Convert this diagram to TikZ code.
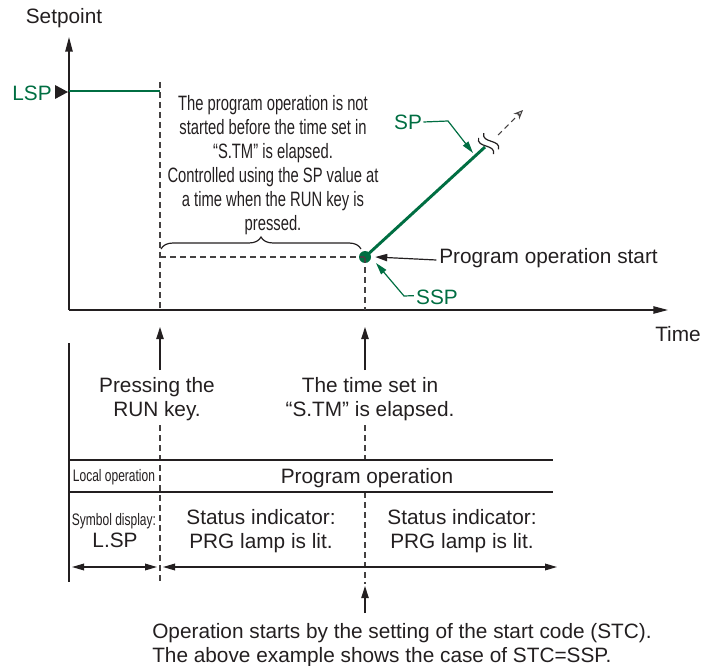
\documentclass[tikz,border=0pt]{standalone}
\usepackage{fontspec}
\setmainfont{Liberation Sans}
\newfontfamily\narrowfont[FakeStretch=0.71]{Liberation Sans}
\newfontfamily\smallnarrow[FakeStretch=0.72]{Liberation Sans}
\usetikzlibrary{arrows.meta,decorations.pathreplacing}
\definecolor{ink}{RGB}{35,31,32}
\definecolor{grn}{RGB}{0,110,66}
\begin{document}
\begin{tikzpicture}[x=0.75pt,y=-0.75pt,
  txt/.style={font=\fontsize{15.6}{17.5}\selectfont, text=ink, inner sep=0pt, align=center},
  ntxt/.style={font=\narrowfont\fontsize{15.6}{18}\selectfont, text=ink, inner sep=0pt, align=center},
  smalltxt/.style={font=\smallnarrow\fontsize{12.5}{13}\selectfont, text=ink, inner sep=0pt},
  axisline/.style={line width=1.1pt, draw=ink, -{Triangle[length=11pt,width=5.5pt]}},
  arr/.style={line width=0.9pt, draw=ink, -{Triangle[length=9pt,width=5.5pt]}},
  dblarr/.style={line width=0.9pt, draw=ink, {Triangle[length=9pt,width=5pt]}-{Triangle[length=9pt,width=5pt]}},
  dashline/.style={draw=ink!85, line width=0.8pt, dash pattern=on 4.5pt off 3pt},
  tline/.style={draw=ink, line width=0.9pt},
  gleader/.style={draw=grn, line width=0.9pt, -{Triangle[length=9pt,width=5pt]}},
]
\useasboundingbox (0,0) rectangle (702,666);

% axes
\coordinate (O) at (69,310);
\coordinate (Ytop) at (69,37);
\coordinate (Xend) at (668,310);
\draw[axisline] (O) -- (Ytop);
\draw[axisline] (O) -- (Xend);
\node[txt] (setpoint) at (64,18) {Setpoint};
\node[txt] (time) at (678,334) {Time};

% LSP
\node[txt, text=grn] (lsp) at (32,93) {LSP};
\fill[ink] (55,85) -- (68,92) -- (55,99) -- cycle;
\coordinate (lspA) at (69,91);
\coordinate (lspB) at (160,91);
\draw[grn, line width=2pt] (lspA) -- (lspB);

% dashed verticals (upper)
\coordinate (d1top) at (160,82);
\coordinate (d1ax) at (160,310);
\draw[dashline] (d1top) -- (d1ax);

% dot and SP line
\node[circle, fill=grn, minimum size=9pt, inner sep=0pt] (dot) at (365,257) {};
\coordinate (d2ax) at (365,310);
\draw[dashline] (dot.center) -- (d2ax);
\coordinate (hl) at (160,257);
\draw[dashline] (hl) -- (dot.center);
\coordinate (spend) at (485,147);
\draw[grn, line width=2.2pt] (dot.center) -- (spend);

% break mark
\begin{scope}[shift={(486,146)}, x=0.75pt, y=0.75pt, rotate=42.3]
  \draw[ink, line width=0.9pt] (0,-11) .. controls (9,-5) and (-9,5) .. (0,11);
  \draw[ink, line width=0.9pt] (7,-11) .. controls (16,-5) and (-2,5) .. (7,11);
\end{scope}
\coordinate (contA) at (498,135);
\coordinate (contB) at (523,110);
\draw[dashline, dash pattern=on 4pt off 3pt, -{Stealth[open,length=7pt,width=6pt]}] (contA) -- (contB);

% SP label
\node[txt, text=grn] (sp) at (408,122) {SP};
\coordinate (spk) at (448,121);
\coordinate (sptip) at (473,153);
\draw[gleader] ([xshift=1pt]sp.east) -- (spk) -- (sptip);

% brace and note
\coordinate (brA) at (161,249);
\coordinate (brB) at (361,249);
\draw[ink, line width=0.9pt, decorate, decoration={brace, amplitude=9pt}] (brA) -- (brB);
\node[ntxt] (note) at (273,165) {The program operation is not\\started before the time set in\\“S.TM” is elapsed.\\Controlled using the SP value at\\a time when the RUN key is\\pressed.};

% Program operation start
\node[txt, anchor=west] (pos) at (439,258) {Program operation start};
\draw[arr] ([xshift=-2pt,yshift=-1.5pt]pos.west) -- ([xshift=3pt]dot.east);

% SSP
\node[txt, text=grn] (ssp) at (437,297) {SSP};
\coordinate (sspk) at (404,296);
\coordinate (ssptip) at (376,263);
\draw[gleader] ([xshift=-1.5pt,yshift=1pt]ssp.west) -- (sspk) -- (ssptip);

% event arrows
\coordinate (e1b) at (160,370);
\coordinate (e1t) at (160,327);
\coordinate (e2b) at (365,370);
\coordinate (e2t) at (365,327);
\draw[arr] (e1b) -- (e1t);
\draw[arr] (e2b) -- (e2t);
\node[txt] (press) at (157,399) {Pressing the\\RUN key.};
\node[txt] (elapsed) at (370,399) {The time set in\\“S.TM” is elapsed.};

% lower dashed verticals
\coordinate (l1a) at (160,425);
\coordinate (l1b) at (160,584);
\coordinate (l2a) at (365,425);
\coordinate (l2b) at (365,460);
\coordinate (l2c) at (365,492);
\coordinate (l2d) at (365,584);
\draw[dashline] (l1a) -- (l1b);
\draw[dashline] (l2a) -- (l2b);
\draw[dashline] (l2c) -- (l2d);

% table
\coordinate (tv1) at (69,343);
\coordinate (tv2) at (69,582);
\draw[tline] (tv1) -- (tv2);
\coordinate (h1a) at (69,460);
\coordinate (h1b) at (553,460);
\coordinate (h2a) at (69,492);
\coordinate (h2b) at (553,492);
\draw[tline] (h1a) -- (h1b);
\draw[tline] (h2a) -- (h2b);
\node[smalltxt] (local) at (114,477) {Local operation};
\node[txt] (prog) at (367,478) {Program operation};
\node[smalltxt] (symb) at (114,521) {Symbol display:};
\node[txt] (lspd) at (115,540) {L.SP};
\node[txt] (stat1) at (261,531) {Status indicator:\\PRG lamp is lit.};
\node[txt] (stat2) at (462,531) {Status indicator:\\PRG lamp is lit.};

\coordinate (r1a) at (72,567);
\coordinate (r1b) at (157,567);
\coordinate (r2a) at (163,567);
\coordinate (r2b) at (557,567);
\draw[dblarr] (r1a) -- (r1b);
\draw[dblarr] (r2a) -- (r2b);

% bottom note
\coordinate (bb) at (365,613);
\coordinate (bt) at (365,586);
\draw[arr] (bb) -- (bt);
\node[txt, anchor=west, align=left] (stc) at (152,645) {Operation starts by the setting of the start code (STC).\\The above example shows the case of STC=SSP.};
\end{tikzpicture}
\end{document}
